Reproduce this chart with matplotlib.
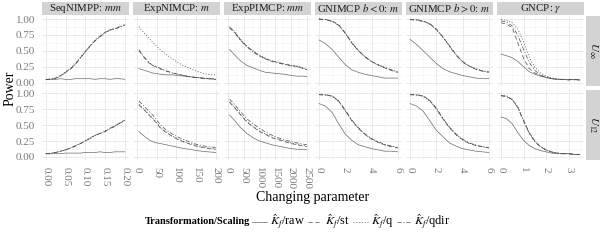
import numpy as np
import matplotlib
matplotlib.use('Agg')
from matplotlib import pyplot as plt
from matplotlib.patches import Rectangle
from matplotlib.lines import Line2D

plt.rcParams['font.family'] = ['Liberation Serif', 'DejaVu Serif']
plt.rcParams['mathtext.fontset'] = 'stix'
plt.rcParams['lines.scale_dashes'] = False

#%% Données

# SeqNIMPP : mm
seq_x = [0, 0.0125, 0.025, 0.0375, 0.05, 0.0625, 0.075, 0.0875, 0.1, 0.1125,
         0.125, 0.1375, 0.15, 0.1625, 0.175, 0.1875, 0.2]
seq_uinf_raw = [0.05, 0.05, 0.05, 0.06, 0.05, 0.05, 0.06, 0.06, 0.06, 0.06, 0.05, 0.06, 0.06, 0.05, 0.06, 0.06, 0.05]
seq_uinf_st = [0.05, 0.05, 0.07, 0.11, 0.16, 0.22, 0.29, 0.39, 0.49, 0.58, 0.66, 0.73, 0.79, 0.83, 0.85, 0.88, 0.91]
seq_uinf_q = [0.05, 0.06, 0.07, 0.11, 0.17, 0.22, 0.30, 0.40, 0.49, 0.58, 0.67, 0.73, 0.79, 0.82, 0.85, 0.88, 0.91]
seq_uinf_qdir = [0.05, 0.05, 0.07, 0.10, 0.16, 0.21, 0.29, 0.39, 0.48, 0.58, 0.66, 0.72, 0.78, 0.83, 0.84, 0.87, 0.90]
seq_u12_raw = [0.05, 0.05, 0.05, 0.05, 0.06, 0.06, 0.06, 0.06, 0.07, 0.07, 0.07, 0.08, 0.07, 0.07, 0.08, 0.08, 0.08]
seq_u12_st = [0.05, 0.06, 0.07, 0.09, 0.11, 0.14, 0.17, 0.21, 0.25, 0.30, 0.34, 0.37, 0.40, 0.45, 0.49, 0.53, 0.58]
seq_u12_q = [0.05, 0.06, 0.07, 0.09, 0.12, 0.14, 0.17, 0.21, 0.26, 0.30, 0.34, 0.37, 0.41, 0.45, 0.49, 0.54, 0.58]
seq_u12_qdir = [0.05, 0.05, 0.07, 0.09, 0.11, 0.14, 0.18, 0.21, 0.25, 0.29, 0.34, 0.37, 0.40, 0.44, 0.48, 0.53, 0.57]

# ExpNIMCP : m
expn_x = [5, 10, 20, 30, 40, 50, 60, 75, 90, 105, 120, 135, 150, 165, 180, 200]
expn_uinf_raw = [0.22, 0.21, 0.19, 0.17, 0.15, 0.14, 0.13, 0.12, 0.12, 0.11, 0.10, 0.09, 0.08, 0.07, 0.06, 0.05]
expn_uinf_st = [0.50, 0.46, 0.38, 0.31, 0.27, 0.24, 0.21, 0.18, 0.15, 0.13, 0.11, 0.09, 0.08, 0.07, 0.06, 0.05]
expn_uinf_q = [0.88, 0.84, 0.77, 0.70, 0.63, 0.57, 0.51, 0.44, 0.37, 0.31, 0.26, 0.22, 0.18, 0.15, 0.13, 0.12]
expn_uinf_qdir = [0.52, 0.47, 0.39, 0.32, 0.27, 0.25, 0.22, 0.18, 0.15, 0.13, 0.11, 0.09, 0.08, 0.07, 0.06, 0.06]
expn_u12_raw = [0.40, 0.37, 0.32, 0.27, 0.24, 0.22, 0.21, 0.19, 0.17, 0.15, 0.13, 0.12, 0.10, 0.09, 0.08, 0.07]
expn_u12_st = [0.82, 0.79, 0.73, 0.66, 0.60, 0.53, 0.45, 0.38, 0.32, 0.27, 0.23, 0.20, 0.17, 0.15, 0.13, 0.12]
expn_u12_q = [0.83, 0.80, 0.74, 0.67, 0.61, 0.54, 0.46, 0.39, 0.33, 0.28, 0.24, 0.21, 0.18, 0.16, 0.14, 0.13]
expn_u12_qdir = [0.88, 0.85, 0.79, 0.72, 0.66, 0.58, 0.50, 0.42, 0.36, 0.31, 0.27, 0.23, 0.20, 0.18, 0.16, 0.15]

# ExpPIMCP : mm
expp_x = [50, 200, 400, 600, 800, 1000, 1200, 1400, 1600, 1800, 2000, 2200, 2400, 2500]
expp_uinf_raw = [0.52, 0.44, 0.34, 0.27, 0.23, 0.19, 0.16, 0.15, 0.14, 0.13, 0.11, 0.10, 0.10, 0.09]
expp_uinf_st = [0.87, 0.80, 0.67, 0.57, 0.49, 0.42, 0.37, 0.34, 0.31, 0.29, 0.27, 0.25, 0.22, 0.20]
expp_uinf_q = [0.88, 0.81, 0.68, 0.57, 0.50, 0.43, 0.38, 0.34, 0.32, 0.29, 0.27, 0.26, 0.23, 0.21]
expp_uinf_qdir = [0.86, 0.79, 0.66, 0.56, 0.48, 0.42, 0.37, 0.33, 0.31, 0.28, 0.26, 0.25, 0.22, 0.20]
expp_u12_raw = [0.66, 0.58, 0.46, 0.37, 0.30, 0.25, 0.22, 0.19, 0.17, 0.15, 0.13, 0.12, 0.12, 0.11]
expp_u12_st = [0.86, 0.78, 0.66, 0.55, 0.47, 0.40, 0.35, 0.30, 0.27, 0.24, 0.21, 0.19, 0.17, 0.16]
expp_u12_q = [0.87, 0.79, 0.67, 0.56, 0.48, 0.41, 0.36, 0.31, 0.28, 0.25, 0.22, 0.20, 0.18, 0.17]
expp_u12_qdir = [0.91, 0.83, 0.71, 0.60, 0.52, 0.45, 0.39, 0.34, 0.30, 0.27, 0.24, 0.22, 0.20, 0.19]

# GNIMCP b < 0 : m
gneg_x = [0, 0.5, 1, 1.5, 2, 2.5, 3, 3.5, 4, 4.5, 5, 5.5, 6]
gneg_uinf_raw = [0.67, 0.61, 0.52, 0.40, 0.28, 0.20, 0.16, 0.13, 0.11, 0.09, 0.07, 0.07, 0.07]
gneg_uinf_st = [1.00, 0.99, 0.97, 0.91, 0.78, 0.62, 0.50, 0.41, 0.33, 0.28, 0.23, 0.19, 0.16]
gneg_uinf_q = [1.00, 0.99, 0.97, 0.90, 0.77, 0.62, 0.51, 0.41, 0.33, 0.27, 0.23, 0.20, 0.16]
gneg_uinf_qdir = [1.00, 0.99, 0.96, 0.90, 0.78, 0.63, 0.50, 0.40, 0.33, 0.28, 0.24, 0.20, 0.17]
gneg_u12_raw = [0.84, 0.80, 0.70, 0.52, 0.36, 0.26, 0.19, 0.16, 0.13, 0.11, 0.09, 0.09, 0.08]
gneg_u12_st = [0.98, 0.98, 0.96, 0.88, 0.73, 0.57, 0.45, 0.36, 0.28, 0.23, 0.19, 0.16, 0.14]
gneg_u12_q = [0.98, 0.98, 0.95, 0.87, 0.72, 0.57, 0.45, 0.35, 0.28, 0.23, 0.19, 0.17, 0.14]
gneg_u12_qdir = [0.98, 0.97, 0.96, 0.88, 0.74, 0.58, 0.46, 0.36, 0.29, 0.24, 0.20, 0.17, 0.15]

# GNIMCP b > 0 : m
gpos_x = [0, 0.5, 1, 1.5, 2, 2.5, 3, 3.5, 4, 4.5, 5, 5.5, 6]
gpos_uinf_raw = [0.68, 0.60, 0.50, 0.40, 0.30, 0.22, 0.17, 0.14, 0.11, 0.09, 0.07, 0.06, 0.06]
gpos_uinf_st = [0.99, 0.99, 0.97, 0.93, 0.84, 0.72, 0.58, 0.44, 0.33, 0.26, 0.21, 0.18, 0.16]
gpos_uinf_q = [0.99, 0.99, 0.97, 0.92, 0.83, 0.71, 0.58, 0.44, 0.33, 0.26, 0.22, 0.19, 0.16]
gpos_uinf_qdir = [0.99, 0.98, 0.96, 0.92, 0.84, 0.72, 0.57, 0.43, 0.32, 0.26, 0.21, 0.18, 0.17]
gpos_u12_raw = [0.84, 0.80, 0.72, 0.57, 0.42, 0.32, 0.22, 0.17, 0.13, 0.11, 0.09, 0.08, 0.07]
gpos_u12_st = [0.98, 0.98, 0.96, 0.89, 0.76, 0.60, 0.46, 0.35, 0.27, 0.21, 0.18, 0.16, 0.14]
gpos_u12_q = [0.98, 0.98, 0.95, 0.88, 0.75, 0.60, 0.46, 0.35, 0.27, 0.22, 0.18, 0.16, 0.14]
gpos_u12_qdir = [0.98, 0.97, 0.96, 0.89, 0.77, 0.61, 0.47, 0.36, 0.28, 0.22, 0.19, 0.16, 0.15]

# GNCP : gamma
gncp_x = [0, 0.25, 0.5, 0.75, 1.0, 1.25, 1.5, 1.75, 2.0, 2.25, 2.5, 2.75, 3.0, 3.25, 3.5]
gncp_uinf_raw = [0.45, 0.42, 0.39, 0.33, 0.25, 0.17, 0.13, 0.10, 0.08, 0.06, 0.05, 0.05, 0.04, 0.05, 0.04]
gncp_uinf_st = [0.94, 0.92, 0.86, 0.62, 0.38, 0.22, 0.15, 0.11, 0.08, 0.06, 0.05, 0.05, 0.04, 0.05, 0.04]
gncp_uinf_q = [0.99, 0.98, 0.94, 0.84, 0.64, 0.40, 0.24, 0.15, 0.10, 0.07, 0.06, 0.05, 0.05, 0.05, 0.04]
gncp_uinf_qdir = [0.97, 0.95, 0.89, 0.74, 0.52, 0.32, 0.19, 0.12, 0.08, 0.06, 0.05, 0.05, 0.05, 0.04, 0.04]
gncp_u12_raw = [0.63, 0.60, 0.52, 0.38, 0.26, 0.18, 0.13, 0.10, 0.08, 0.06, 0.05, 0.05, 0.05, 0.04, 0.04]
gncp_u12_st = [0.97, 0.95, 0.90, 0.78, 0.57, 0.38, 0.25, 0.16, 0.11, 0.08, 0.06, 0.05, 0.05, 0.04, 0.04]
gncp_u12_q = [0.97, 0.96, 0.91, 0.79, 0.58, 0.39, 0.25, 0.16, 0.11, 0.08, 0.06, 0.05, 0.05, 0.04, 0.04]
gncp_u12_qdir = [0.96, 0.95, 0.90, 0.77, 0.56, 0.37, 0.24, 0.16, 0.11, 0.07, 0.06, 0.05, 0.05, 0.04, 0.04]

panel_titles = ['SeqNIMPP: $mm$', 'ExpNIMCP: $m$', 'ExpPIMCP: $mm$',
                'GNIMCP $b<0$: $m$', 'GNIMCP $b>0$: $m$', r'GNCP: $\gamma$']
row_titles = [r'$U_\infty$', r'$U_{12}$']
series_labels = [r'$\hat{K}_f$/raw', r'$\hat{K}_f$/st', r'$\hat{K}_f$/q', r'$\hat{K}_f$/qdir']

x_ticks = [[0, 0.05, 0.10, 0.15, 0.20], [0, 50, 100, 150, 200],
           [0, 500, 1000, 1500, 2000, 2500], [0, 2, 4, 6], [0, 2, 4, 6], [0, 1, 2, 3]]
x_ticklabels = [['0.00', '0.05', '0.10', '0.15', '0.20'], ['0', '50', '100', '150', '200'],
                ['0', '500', '1000', '1500', '2000', '2500'], ['0', '2', '4', '6'],
                ['0', '2', '4', '6'], ['0', '1', '2', '3']]
x_limits = [(-0.01, 0.21), (-10, 210), (-125, 2625), (-0.3, 6.3), (-0.3, 6.3), (-0.175, 3.675)]
y_ticks = [0, 0.25, 0.5, 0.75, 1.0]
y_ticklabels = ['0.00', '0.25', '0.50', '0.75', '1.00']

panels_x = [seq_x, expn_x, expp_x, gneg_x, gpos_x, gncp_x]
panels_y = [
    [[seq_uinf_raw, seq_uinf_st, seq_uinf_q, seq_uinf_qdir],
     [seq_u12_raw, seq_u12_st, seq_u12_q, seq_u12_qdir]],
    [[expn_uinf_raw, expn_uinf_st, expn_uinf_q, expn_uinf_qdir],
     [expn_u12_raw, expn_u12_st, expn_u12_q, expn_u12_qdir]],
    [[expp_uinf_raw, expp_uinf_st, expp_uinf_q, expp_uinf_qdir],
     [expp_u12_raw, expp_u12_st, expp_u12_q, expp_u12_qdir]],
    [[gneg_uinf_raw, gneg_uinf_st, gneg_uinf_q, gneg_uinf_qdir],
     [gneg_u12_raw, gneg_u12_st, gneg_u12_q, gneg_u12_qdir]],
    [[gpos_uinf_raw, gpos_uinf_st, gpos_uinf_q, gpos_uinf_qdir],
     [gpos_u12_raw, gpos_u12_st, gpos_u12_q, gpos_u12_qdir]],
    [[gncp_uinf_raw, gncp_uinf_st, gncp_uinf_q, gncp_uinf_qdir],
     [gncp_u12_raw, gncp_u12_st, gncp_u12_q, gncp_u12_qdir]],
]

#%% Styles

line_styles = ['-', (0, (3, 2)), (0, (0.8, 1.2)), (0, (3, 1.3, 0.8, 1.3))]
line_colors = ['#6a6a6a', '#4d4d4d', '#4d4d4d', '#4d4d4d']
line_width = 0.5
strip_color = '#d3d3d3'
tick_color = '#7a7a7a'

#%% Figure

fig, axes = plt.subplots(2, 6, figsize=(6, 2.4), dpi=100, sharey=True)
fig.subplots_adjust(left=0.07, right=0.973, top=0.934, bottom=0.333, wspace=0.05, hspace=0.065)

for j in range(6):
    major = np.array(x_ticks[j], dtype=float)
    step = major[1] - major[0]
    minor = np.arange(major[0] + step / 2, x_limits[j][1], step)
    for i in range(2):
        ax = axes[i, j]
        for k in range(4):
            ax.plot(panels_x[j], panels_y[j][i][k], color=line_colors[k], lw=line_width,
                    linestyle=line_styles[k], zorder=3)
        ax.set_xlim(*x_limits[j])
        ax.set_ylim(-0.05, 1.05)
        ax.set_xticks(x_ticks[j])
        ax.set_xticks(minor, minor=True)
        ax.set_yticks(y_ticks)
        ax.set_yticks([0.125, 0.375, 0.625, 0.875], minor=True)
        ax.grid(which='major', color='#e6e6e6', lw=0.6)
        ax.grid(which='minor', color='#f1f1f1', lw=0.4)
        ax.set_axisbelow(True)
        for s in ax.spines.values():
            s.set_visible(False)
        ax.tick_params(which='both', length=0, labelsize=8, labelcolor=tick_color, pad=5)
        if i == 1:
            ax.set_xticklabels(x_ticklabels[j], rotation=-90, va='top', ha='center')
        else:
            ax.set_xticklabels([])
        if j == 0:
            ax.set_yticklabels(y_ticklabels)
        # bandeau du haut
        if i == 0:
            ax.add_patch(Rectangle((0, 1.015), 1, 0.185, transform=ax.transAxes,
                                   facecolor=strip_color, edgecolor='none', clip_on=False))
            ax.text(0.5, 1.107, panel_titles[j], transform=ax.transAxes, ha='center',
                    va='center', fontsize=7.8, color='#1a1a1a')
        # bandeau de droite
        if j == 5:
            ax.add_patch(Rectangle((1.023, 0), 0.165, 1, transform=ax.transAxes,
                                   facecolor=strip_color, edgecolor='none', clip_on=False))
            ax.text(1.105, 0.5, row_titles[i], transform=ax.transAxes, ha='center',
                    va='center', rotation=-90, fontsize=8, color='#1a1a1a')

fig.text(0.016, 0.633, 'Power', rotation=90, ha='center', va='center', fontsize=10)
fig.text(0.521, 0.175, 'Changing parameter', ha='center', va='center', fontsize=10)

# légende
handles = [Line2D([], [], color=line_colors[k], lw=line_width, linestyle=line_styles[k])
           for k in range(4)]
fig.text(0.4167, 0.075, 'Transformation/Scaling', ha='right', va='center',
         fontsize=7.5, fontweight='bold')
fig.legend(handles, series_labels, loc='center left', bbox_to_anchor=(0.420, 0.075),
           ncol=4, frameon=False, fontsize=8.8, handlelength=1.2, handletextpad=0.25,
           columnspacing=0.25, borderpad=0, borderaxespad=0)

fig.savefig('out.png', dpi=100)
